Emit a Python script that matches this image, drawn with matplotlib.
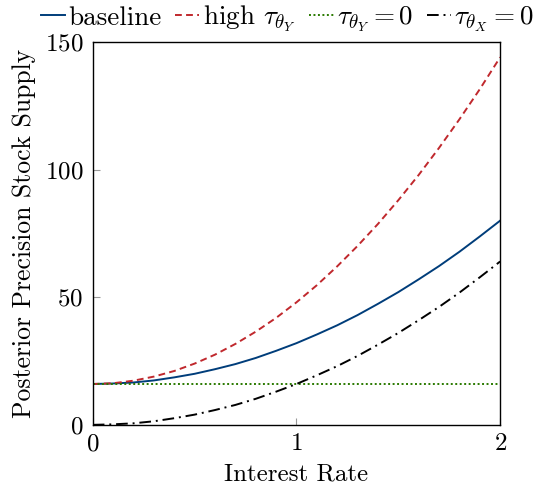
import matplotlib
matplotlib.use("Agg")
import matplotlib.pyplot as plt

plt.rcParams['font.family'] = 'serif'
plt.rcParams['font.serif'] = ['cmr10']
plt.rcParams['mathtext.fontset'] = 'cm'
plt.rcParams['axes.formatter.use_mathtext'] = True

# values
rate = [0.0, 0.1, 0.2, 0.3, 0.4, 0.5, 0.6, 0.7, 0.8, 0.9, 1.0,
        1.1, 1.2, 1.3, 1.4, 1.5, 1.6, 1.7, 1.8, 1.9, 2.0]
baseline = [16.0, 16.2, 16.6, 17.4, 18.6, 20.0, 21.8, 23.8, 26.2, 29.0, 32.0,
            35.4, 39.0, 43.0, 47.4, 52.0, 57.0, 62.2, 67.8, 73.8, 80.0]
high_y = [16.0, 16.3, 17.3, 18.9, 21.1, 24.0, 27.5, 31.7, 36.5, 41.9, 48.0,
          54.7, 62.1, 70.1, 78.7, 88.0, 97.9, 108.5, 119.7, 131.5, 144.0]
zero_y = [16.0] * 21
zero_x = [0.0, 0.2, 0.6, 1.4, 2.6, 4.0, 5.8, 7.8, 10.2, 13.0, 16.0,
          19.4, 23.0, 27.0, 31.4, 36.0, 41.0, 46.2, 51.8, 57.8, 64.0]

labels = ['baseline', r'high $\tau_{\theta_Y}$', r'$\tau_{\theta_Y} = 0$', r'$\tau_{\theta_X} = 0$']

fig = plt.figure(figsize=(5.49, 4.94), dpi=100)
ax = fig.add_axes([0.169, 0.140, 0.742, 0.775])

ax.plot(rate, baseline, color='#003d7a', lw=1.4, label=labels[0])
ax.plot(rate, high_y, color='#c0282d', lw=1.4, ls=(0, (3.5, 2.2)), label=labels[1])
ax.plot(rate, zero_y, color='#2a7a00', lw=1.4, ls=(0, (1, 1.3)), label=labels[2])
ax.plot(rate, zero_x, color='black', lw=1.4, ls=(0, (6, 2.5, 1, 2.5)), label=labels[3])

ax.set_xlim(0, 2)
ax.set_ylim(0, 150)
ax.set_xticks([0, 1, 2])
ax.set_yticks([0, 50, 100, 150])
ax.tick_params(direction='in', length=5, color='#999999', labelsize=18)
ax.tick_params(axis='x', pad=6)
ax.tick_params(axis='y', pad=7)
ax.set_xlabel('Interest Rate', fontsize=18, labelpad=6)
ax.set_ylabel('Posterior Precision Stock Supply', fontsize=18.5, labelpad=6)
for s in ax.spines.values():
    s.set_linewidth(1.0)

ax.legend(loc='lower left', bbox_to_anchor=(-0.128, 1.02), ncol=4, frameon=False,
          fontsize=19.5, handlelength=0.9, handletextpad=0.12, columnspacing=0.5,
          borderaxespad=0.0, borderpad=0.0)

fig.savefig('out.png', dpi=100)
